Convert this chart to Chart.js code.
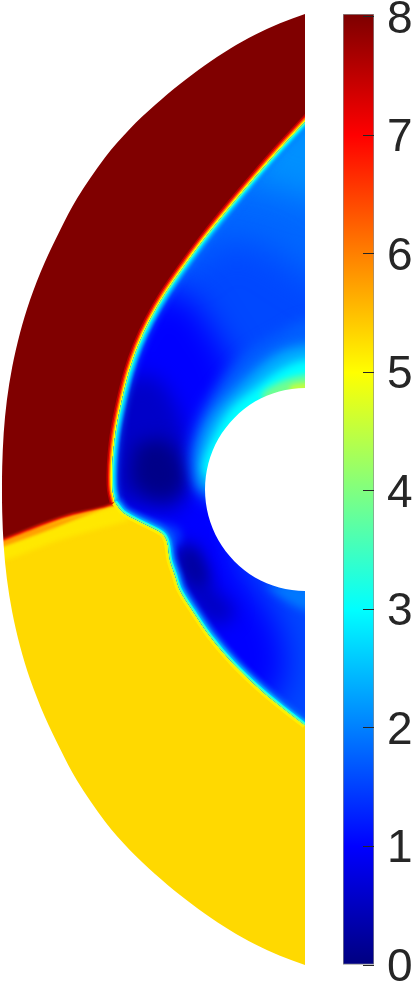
<!DOCTYPE html>
<html>
<head>
<meta charset="utf-8">
<style>
  html, body { margin: 0; padding: 0; background: #fff; overflow: hidden; }
  #field { position: absolute; left: 0; top: 0; }
  #bar { position: absolute; left: 330px; top: 0; }
</style>
<script src="https://cdn.jsdelivr.net/npm/chart.js@4/dist/chart.umd.js"></script>
</head>
<body>
<canvas id="field" width="340" height="984"></canvas>
<canvas id="bar" width="84" height="984"></canvas>
<script>
// data (x, y in domain units, cylinder radius is about 1)
const outerArc = [[0.25,-4.83],[0,-4.75],[-0.25,-4.658],[-0.5,-4.543],[-0.75,-4.403],[-1,-4.238],[-1.25,-4.05],[-1.5,-3.84],[-1.75,-3.603],[-2,-3.315],[-2.28,-2.905],[-2.448,-2.59],[-2.605,-2.26],[-2.75,-1.89],[-2.85,-1.56],[-2.928,-1.22],[-2.981,-0.89],[-3.013,-0.56],[-3.028,-0.22],[-3.03,0.005],[-3.028,0.23],[-3.013,0.57],[-2.981,0.9],[-2.928,1.23],[-2.85,1.57],[-2.75,1.9],[-2.605,2.27],[-2.448,2.6],[-2.28,2.915],[-2,3.325],[-1.75,3.613],[-1.5,3.85],[-1.25,4.06],[-1,4.248],[-0.75,4.413],[-0.5,4.553],[-0.25,4.668],[0,4.76],[0.25,4.84]];
const outerCorners = [[1,7],[-5,7],[-5,-7],[1,-7]];
const cylinder = [[1,0.005],[0.966,0.267],[0.866,0.513],[0.707,0.721],[0.5,0.884],[0.259,0.985],[0,1.02],[-0.259,0.985],[-0.5,0.884],[-0.707,0.721],[-0.866,0.513],[-0.966,0.267],[-1,0.005],[-0.966,-0.258],[-0.866,-0.503],[-0.707,-0.712],[-0.5,-0.875],[-0.259,-0.975],[0,-1.01],[0.259,-0.975],[0.5,-0.875],[0.707,-0.712],[0.866,-0.503],[0.966,-0.258],[1,0.005]];

const upperFront = [[0.3,4.0],[0,3.68],[-0.25,3.41],[-0.5,3.125],[-0.75,2.83],[-1,2.52],[-1.2,2.25],[-1.4,1.96],[-1.55,1.7],[-1.67,1.44],[-1.76,1.18],[-1.83,0.9],[-1.89,0.6],[-1.92,0.35],[-1.93,0.15],[-1.925,0],[-1.9,-0.12]];
const lowerFront = [[-1.9,-0.12],[-1.82,-0.22],[-1.72,-0.28],[-1.58,-0.35],[-1.43,-0.43],[-1.38,-0.51],[-1.35,-0.7],[-1.3,-0.85],[-1.25,-1.0],[-1.12,-1.21],[-0.95,-1.46],[-0.72,-1.73],[-0.45,-1.99],[-0.22,-2.18],[0,-2.35],[0.3,-2.58]];
const slipLine = [[-1.9,-0.13],[-2.38,-0.25],[-2.72,-0.37],[-3.0,-0.48],[-3.1,-0.52]];
const slipWedge = [[-1.9,-0.14],[-3.1,-0.59],[-3.1,-0.5]];
const brightWedge = [[-1.87,-0.15],[-2.45,-0.33],[-3.1,-0.58],[-3.1,-0.72],[-2.45,-0.5],[-1.75,-0.3]];

const topLight = [[0.4,4.0],[0.4,2.0],[-0.05,2.2],[-0.45,2.45],[-0.85,2.5],[-1.25,2.2],[-1.55,2.4],[-0.25,4.1]];
const topLighter = [[0.4,4.0],[0.4,2.9],[-0.1,2.95],[-0.4,3.05],[-0.7,3.1],[-0.6,3.4],[-0.25,4.1]];
const blueBand = [[-1.55,2.0],[-1.15,1.9],[-0.9,1.55],[-0.73,1.25],[-0.65,0.1],[-0.65,-0.7],[-0.35,-1.2],[-0.2,-1.6],[-0.3,-2.1],[-0.85,-2.0],[-1.55,-1.1],[-2.05,-0.1],[-2.05,1.1]];
const darkUpper = [[-1.95,1.0],[-1.55,1.15],[-1.27,0.8],[-1.17,0.2],[-1.27,-0.2],[-1.55,-0.2],[-1.95,-0.1]];
const darkestUpper = [[-1.7,0.45],[-1.4,0.5],[-1.2,0.2],[-1.27,-0.05],[-1.55,-0.08],[-1.75,0.1]];
const darkLower = [[-1.3,-0.55],[-1.1,-0.55],[-0.9,-1.0],[-0.7,-1.2],[-0.85,-1.35],[-1.1,-1.15],[-1.3,-0.75]];
const darkestLower = [[-1.25,-0.6],[-1.1,-0.6],[-0.97,-0.9],[-1.1,-0.95],[-1.23,-0.8]];
const shoulder = [[-1.75,-0.25],[-1.45,-0.32],[-1.25,-0.4],[-1.27,-0.55],[-1.4,-0.55],[-1.55,-0.4]];
const ring2 = [[0.4,1.7],[0,1.7],[-0.25,1.57],[-0.58,1.37],[-0.92,0.97],[-1.1,0.6],[-1.15,0.25],[-1.0,-0.1],[-0.55,-0.1],[0.4,0.7]];
const ring25 = [[0.4,1.45],[0,1.45],[-0.3,1.35],[-0.65,1.05],[-0.95,0.7],[-1.08,0.3],[-1.0,0],[0.4,0.5]];
const ring3 = [[0.4,1.3],[0,1.3],[-0.25,1.2],[-0.48,1.03],[-0.75,0.8],[-0.95,0.45],[-1.02,0.2],[-0.9,0.1],[0.4,0.6]];
const ring4 = [[0.4,1.17],[0,1.15],[-0.25,1.08],[-0.43,0.95],[-0.3,0.8],[0.4,0.8]];
const ring45 = [[0.4,1.08],[0,1.07],[-0.15,1.03],[-0.1,0.9],[0.4,0.9]];
const wakeLight = [[0.4,-0.95],[0.4,-1.25],[0,-1.2],[-0.2,-1.1],[-0.4,-0.95]];

const barLevels = [0,1,2,3,4,5,6,7,8];
const barColors = ['#000080','#0000ff','#0080ff','#00ffff','#80ff80','#ffff00','#ff8000','#ff0000','#800000'];
const barRange = [0, 8.025];

// order matters: plugin has to wrap the Filler so blur and clip reach the fills
const fieldInterior = upperFront.concat(lowerFront);
const layerFx = {
  id: 'layerFx',
  beforeDatasetDraw(chart, args) {
    const ds = chart.data.datasets[args.index];
    if (!ds.blurPx && !ds.inField) return;
    const ctx = chart.ctx;
    ctx.save();
    if (ds.inField) {
      const i = chart.data.datasets.findIndex(d => d.isInterior);
      ctx.beginPath();
      chart.getDatasetMeta(i).dataset.path(ctx);
      ctx.closePath();
      ctx.clip();
    }
    if (ds.blurPx) ctx.filter = 'blur(' + ds.blurPx + 'px)';
  },
  afterDatasetDraw(chart, args) {
    const ds = chart.data.datasets[args.index];
    if (ds.blurPx || ds.inField) chart.ctx.restore();
  }
};
Chart.unregister(Chart.Filler);
Chart.register(layerFx);
Chart.register(Chart.Filler);

const pts = a => a.map(p => ({x: p[0], y: p[1]}));
function shape(points, color, blurPx, inField) {
  return {data: pts(points), showLine: true, fill: 'shape', backgroundColor: color, borderWidth: 0,
    pointRadius: 0, tension: 0.33, clip: 0, blurPx: blurPx, inField: inField};
}
function stroke(points, color, width, blurPx, inField) {
  return {data: pts(points), showLine: true, fill: false, borderColor: color, borderWidth: width,
    pointRadius: 0, tension: 0.33, clip: 0, blurPx: blurPx, inField: inField};
}

const redRegion = [[-5,7],[1,7],[0.3,4.0]].concat(upperFront.slice(1), slipLine.slice(1), [[-5,-1.3]]);
const interior = shape(fieldInterior, '#0048ff', 0, false);
interior.isInterior = true;

// back to front
const layers = [
  shape([[-5,7],[1,7],[1,-7],[-5,-7]], '#ffd900', 0, false),
  shape(brightWedge, '#ffe800', 2.5, false),
  shape(slipWedge, '#ffa000', 1.6, false),
  stroke(slipLine, '#ff1000', 4, 1.2, false),
  shape(redRegion, '#800000', 0.8, false),
  stroke(upperFront, '#c00000', 11, 0.6, false),
  stroke(upperFront, '#ff2000', 8, 0.6, false),
  stroke(upperFront, '#ff9000', 5.5, 0.6, false),
  stroke(upperFront, '#ffff00', 3, 0.6, false),
  stroke(lowerFront, '#ffee00', 7, 0.7, false),
  stroke(lowerFront, '#c0ff40', 2.5, 0.6, false),
  interior,
  shape(topLight, '#0068ff', 18, true),
  shape(topLighter, '#0090ff', 16, true),
  shape(blueBand, '#0000ff', 16, true),
  shape(darkUpper, '#0000c8', 10, true),
  shape(darkestUpper, '#000088', 9, true),
  shape(darkLower, '#0000c0', 9, true),
  shape(darkestLower, '#0000a0', 7, true),
  shape(shoulder, '#0038ff', 4, true),
  shape(ring2, '#0060ff', 7, true),
  shape(ring25, '#00b0ff', 6, true),
  shape(ring3, '#00ffff', 4, true),
  shape(ring4, '#70ff90', 3, true),
  shape(ring45, '#c0ff40', 2, true),
  shape(wakeLight, '#0078ff', 4, true),
  stroke(upperFront, 'rgba(0,120,255,0.6)', 12, 3, true),
  stroke(upperFront, '#0098ff', 10, 1.2, true),
  stroke(upperFront, '#00ffff', 5, 0.8, true),
  stroke(upperFront, '#80ff80', 2, 0.6, true),
  stroke(lowerFront, '#0060ff', 14, 2, true),
  stroke(lowerFront, '#00b0ff', 8, 1, true),
  stroke(lowerFront, '#00ffff', 4.5, 0.7, true),
  stroke(lowerFront, '#80ff80', 2, 0.6, true),
  shape(cylinder, '#ffffff', 0, false),
  shape(outerCorners.concat(outerArc, [[1,7]]), '#ffffff', 0, false)
];

new Chart(document.getElementById('field').getContext('2d'), {
  type: 'scatter',
  data: {datasets: layers.slice().reverse()},
  options: {
    responsive: false,
    animation: false,
    events: [],
    devicePixelRatio: 1,
    layout: {padding: {left: 0, top: 0, bottom: 0, right: 35}},
    elements: {line: {capBezierPoints: false}},
    plugins: {legend: {display: false}, tooltip: {enabled: false}},
    scales: {
      x: {type: 'linear', min: -3.05, max: 0, display: false},
      y: {type: 'linear', min: -4.94, max: 4.9, display: false}
    }
  }
});

// colorbar
new Chart(document.getElementById('bar').getContext('2d'), {
  type: 'bar',
  data: {
    labels: [''],
    datasets: [{
      data: [barRange],
      barPercentage: 1,
      categoryPercentage: 1,
      borderWidth: 1,
      borderColor: '#8c8c8c',
      borderSkipped: false,
      backgroundColor(c) {
        const y = c.chart.scales.y;
        if (!y || !c.chart.chartArea) return '#0000ff';
        const g = c.chart.ctx.createLinearGradient(0, y.getPixelForValue(0), 0, y.getPixelForValue(8));
        barLevels.forEach((v, i) => g.addColorStop(v / 8, barColors[i]));
        return g;
      }
    }]
  },
  options: {
    responsive: false,
    animation: false,
    events: [],
    devicePixelRatio: 1,
    layout: {padding: {left: 13, top: 14, bottom: 19, right: 0}},
    plugins: {legend: {display: false}, tooltip: {enabled: false}},
    scales: {
      x: {display: false},
      y: {
        position: 'right',
        min: barRange[0],
        max: barRange[1],
        afterFit(s) { s.width = 40; s.paddingTop = 0; s.paddingBottom = 0; },
        border: {display: false},
        grid: {drawOnChartArea: false, tickLength: -11, tickColor: '#262626', tickWidth: 1, z: 1},
        ticks: {
          stepSize: 1,
          autoSkip: false,
          includeBounds: false,
          padding: 24,
          labelOffset: 3,
          color: '#262626',
          font: {family: '"Liberation Sans"', size: 46},
          callback: v => String(v)
        }
      }
    }
  }
});
</script>
</body>
</html>
